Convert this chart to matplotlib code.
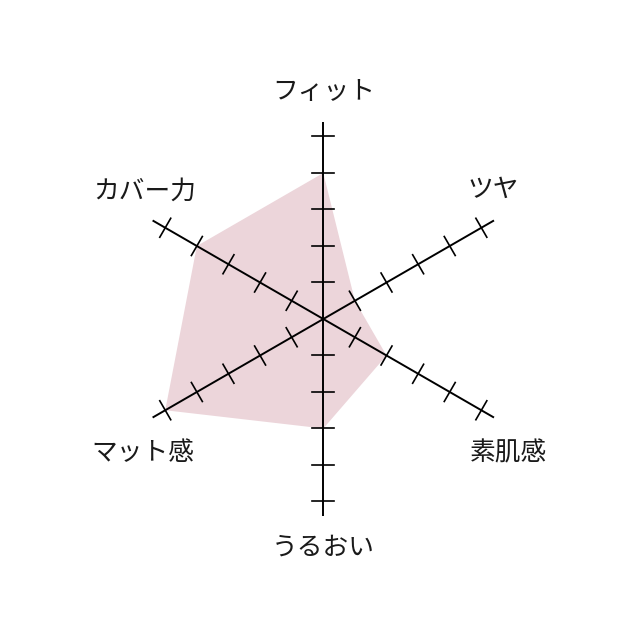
import numpy as np
import matplotlib.pyplot as plt

plt.rcParams['font.family'] = ['Noto Sans CJK JP', 'DejaVu Sans']

# axes, clockwise from the top
labels = ['フィット', 'ツヤ', '素肌感', 'うるおい', 'マット感', 'カバー力']
angles = [90, 30, -30, -90, -150, 150]
values = [4, 1, 2, 3, 5, 4]
ticks = [1, 2, 3, 4, 5]

# layout (units = one tick step)
axis_len = 5.4
tick_half = 0.3
label_off = [(0.0, 6.22), (4.66, 3.53), (5.07, -3.67), (0.0, -6.27),
             (-4.93, -3.67), (-4.88, 3.48)]

fig = plt.figure(figsize=(6.4, 6.4), dpi=100)
ax = fig.add_axes([0, 0, 1, 1])
ax.set_xlim(-323.3 / 36.5, (640 - 323.3) / 36.5)
ax.set_ylim(-321 / 36.5, 319 / 36.5)
ax.set_aspect('equal')
ax.axis('off')

rad = np.radians(angles)
px = np.array(values) * np.cos(rad)
py = np.array(values) * np.sin(rad)
ax.fill(px, py, color='#ecd5da', lw=0, zorder=1)

# axis lines from the centre
for a in rad:
    ax.plot([0, axis_len * np.cos(a)], [0, axis_len * np.sin(a)],
            color='black', lw=1.4, solid_capstyle='butt', zorder=2)
    # tick marks perpendicular to the axis
    nx, ny = -np.sin(a), np.cos(a)
    for t in ticks:
        cx, cy = t * np.cos(a), t * np.sin(a)
        ax.plot([cx - tick_half * nx, cx + tick_half * nx],
                [cy - tick_half * ny, cy + tick_half * ny],
                color='black', lw=1.2, zorder=2)

for lab, (lx, ly) in zip(labels, label_off):
    ax.text(lx, ly, lab, ha='center', va='center', fontsize=18.5,
            color='#1a1a1a')

fig.savefig('out.png', dpi=100, facecolor='white')
